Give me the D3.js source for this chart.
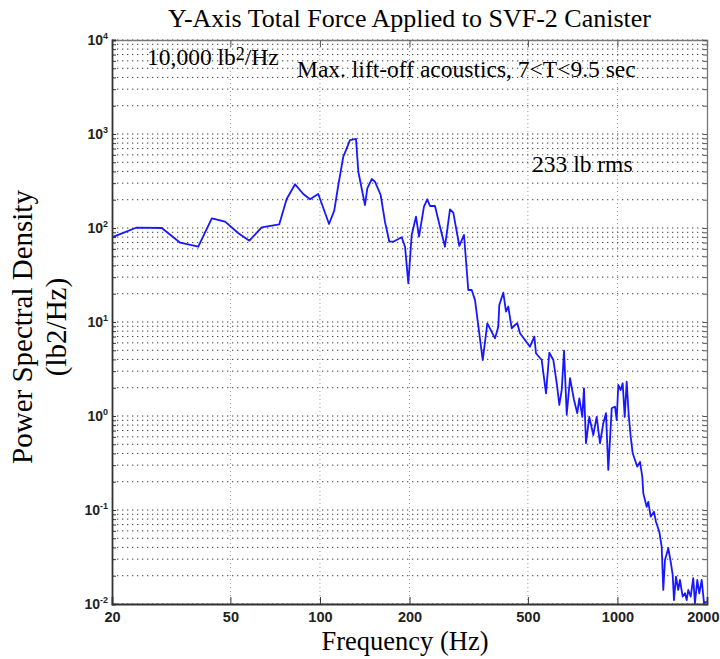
<!DOCTYPE html>
<html>
<head>
<meta charset="utf-8">
<script src="https://cdn.jsdelivr.net/npm/d3@7"></script>
<style>
  body { margin: 0; background: #fff; }
</style>
</head>
<body>
<div id="psd-chart"></div>
<script>
const freqHz = [20, 24.1, 29.4, 33.9, 39.0, 43.3, 48.0, 53.2, 57.9, 63.7, 73.0, 77.3, 82.5, 87.9, 92.6, 98.7,
  107.3, 111.7, 115.3, 119.8, 123.0, 126.2, 132.2, 134.6, 141.7, 144.3, 149.3, 153.1, 160.0, 165.4, 171.1, 176.4,
  188.3, 193.2, 198.2, 203.4, 210.3, 215.3, 223.7, 229.5, 234.4, 243.6, 253.2, 263.2, 273.6, 280.7, 294.1, 305.0,
  315.2, 323.7, 332.1, 352.5, 365.3, 387.7, 397.7, 400.7, 413.3, 422.1, 429.6, 441.1, 452.5, 460.7, 470.4, 489.0,
  508.2, 525.5, 532.4, 556.4, 575.3, 590.2, 608.9, 625.1, 637.7, 649.7, 661.4, 675.4, 692.8, 714.5, 733.0, 744.4,
  761.7, 771.9, 783.9, 804.2, 829.4, 851.5, 873.6, 896.2, 915.2, 931.6, 956.6, 981.3, 994.3, 1006.5, 1025.4, 1041.3,
  1057.8, 1074.2, 1091, 1108, 1125.5, 1145.5, 1166, 1190.7, 1212, 1221.5, 1253.9, 1269.6, 1293.5, 1326.6, 1347.6, 1382.5,
  1408.2, 1425.9, 1444.7, 1482.1, 1510, 1533.5, 1549, 1573, 1601, 1622, 1657, 1687, 1709, 1730, 1763, 1798,
  1822, 1855, 1884, 1920, 1954, 1995];
const psd = [79.6, 100.7, 100, 69.8, 63.2, 126.8, 116.7, 87.9, 73.3, 101.7, 109.5, 203.6, 291.7, 230, 202, 230,
  110.3, 152.8, 286.7, 573, 704, 863, 885, 397, 175.6, 264, 332, 311, 224.4, 116.7, 71.5, 71.5,
  79.6, 63.2, 25.8, 84.3, 131.9, 80.8, 168.6, 202, 171.4, 171.4, 103.2, 63.2, 158.1, 145.5, 64.4, 84.3,
  21.9, 21.9, 17.1, 3.94, 9.69, 6.71, 8.91, 15.2, 20.5, 12.9, 14.6, 8.57, 9.29, 9.69, 7.58, 6.44,
  5.46, 6.98, 4.65, 3.94, 1.74, 4.71, 3.94, 2.23, 1.31, 1.89, 4.95, 1.03, 2.52, 1.48, 1.07, 1.54,
  0.98, 1.97, 0.513, 0.98, 0.628, 0.98, 0.513, 0.836, 1.07, 0.267, 1.21, 1.26, 0.906, 2.14, 1.89, 2.23,
  0.98, 2.32, 1.03, 0.603, 0.401, 0.340, 0.289, 0.325, 0.226, 0.151, 0.108, 0.122, 0.085, 0.096, 0.075, 0.0587,
  0.0408, 0.0141, 0.0294, 0.0392, 0.0282, 0.0204, 0.0110, 0.0195, 0.0141, 0.0180, 0.0120, 0.0130, 0.0110, 0.0141, 0.0120, 0.0188,
  0.0102, 0.0180, 0.0130, 0.0180, 0.0102, 0.0106];
const xTicks = [20, 50, 100, 200, 500, 1000, 2000];
const yExponents = [-2, -1, 0, 1, 2, 3, 4];

const titleText = 'Y-Axis Total Force Applied to SVF-2 Canister';
const xLabel = 'Frequency (Hz)';
const yLabelLines = ['Power Spectral Density', '(lb2/Hz)'];

const drawChart = () => {
  let width = 720,
    height = 659,
    margin = { top: 40, right: 13, bottom: 55, left: 112 },
    serif = '"Liberation Serif", "Times New Roman", serif',
    sans = '"Liberation Sans", Arial, sans-serif';

  let svg = d3.select('#psd-chart')
    .append('svg')
    .attr('width', width)
    .attr('height', height);

  let x = d3.scaleLog().domain([20, 2000]).range([margin.left, width - margin.right]);
  let y = d3.scaleLog().domain([1e-2, 1e4]).range([height - margin.bottom, margin.top]);

  // minor log grid values 1..9 x 10^k
  let yGrid = [];
  yExponents.slice(0, -1).forEach(e => {
    for (let m = 1; m <= 9; m++) yGrid.push(m * Math.pow(10, e));
  });
  yGrid.push(1e4);

  svg.append('g')
    .selectAll('line')
    .data(yGrid)
    .enter().append('line')
    .attr('x1', x.range()[0]).attr('x2', x.range()[1])
    .attr('y1', d => y(d)).attr('y2', d => y(d))
    .attr('stroke', '#3a3a3a')
    .attr('stroke-width', 1)
    .attr('stroke-dasharray', '1.3,3.7');

  svg.append('g')
    .selectAll('line')
    .data(xTicks.slice(1, -1))
    .enter().append('line')
    .attr('x1', d => x(d)).attr('x2', d => x(d))
    .attr('y1', y.range()[0]).attr('y2', y.range()[1])
    .attr('stroke', '#999')
    .attr('stroke-width', 1)
    .attr('stroke-dasharray', '1,3');

  svg.append('clipPath').attr('id', 'plot-clip')
    .append('rect')
    .attr('x', x.range()[0]).attr('y', y.range()[1])
    .attr('width', x.range()[1] - x.range()[0])
    .attr('height', y.range()[0] - y.range()[1]);

  let points = d3.range(Math.min(freqHz.length, psd.length)).map(i => [freqHz[i], psd[i]]);
  let line = d3.line().x(d => x(d[0])).y(d => y(d[1]));

  svg.append('path')
    .datum(points)
    .attr('clip-path', 'url(#plot-clip)')
    .attr('d', line)
    .attr('fill', 'none')
    .attr('stroke', '#1818ff')
    .attr('stroke-width', 1.8)
    .attr('stroke-linejoin', 'round');

  // Frame: top / right
  svg.append('g')
    .attr('transform', `translate(0,${margin.top})`)
    .call(d3.axisTop(x).tickValues(xTicks.slice(1, -1)).tickSize(-7).tickFormat(''))
    .call(g => g.select('.domain').attr('stroke', '#777').attr('stroke-width', 1.3))
    .call(g => g.selectAll('.tick line').attr('stroke', '#555'));

  svg.append('g')
    .attr('transform', `translate(${width - margin.right},0)`)
    .call(d3.axisRight(y).tickValues(yGrid).tickSize(-4).tickFormat(''))
    .call(g => g.select('.domain').attr('stroke', '#777').attr('stroke-width', 1.3))
    .call(g => g.selectAll('.tick line').attr('stroke', '#555'));

  // X Axis
  svg.append('g')
    .attr('transform', `translate(0,${height - margin.bottom})`)
    .call(d3.axisBottom(x).tickValues(xTicks).tickSize(-7).tickPadding(8).tickFormat(d3.format('d')))
    .call(g => g.select('.domain').attr('stroke', '#333').attr('stroke-width', 1.8))
    .call(g => g.selectAll('.tick line').attr('stroke', '#333'))
    .call(g => g.selectAll('.tick text')
      .attr('fill', '#222')
      .style('font-family', sans)
      .style('font-size', '14.5px')
      .style('font-weight', 'bold'))
    // last label sits flush with the page edge
    .call(g => g.selectAll('.tick text').filter(d => d === 2000)
      .attr('text-anchor', 'end')
      .attr('x', width - 1 - x(2000)));

  // Y Axis
  let yAxis = svg.append('g')
    .attr('transform', `translate(${margin.left},0)`)
    .call(d3.axisLeft(y).tickValues(yGrid).tickSize(-4).tickFormat(''))
    .call(g => g.select('.domain').attr('stroke', '#333').attr('stroke-width', 1.8))
    .call(g => g.selectAll('.tick line').attr('stroke', '#333'));

  let yLabels = yAxis.append('g')
    .selectAll('text')
    .data(yExponents)
    .enter().append('text')
    .attr('x', -4)
    .attr('y', d => y(Math.pow(10, d)) + 5)
    .attr('text-anchor', 'end')
    .attr('fill', '#222')
    .style('font-family', sans)
    .style('font-size', '14px')
    .style('font-weight', 'bold');
  yLabels.append('tspan').text('10');
  yLabels.append('tspan')
    .attr('dy', -6)
    .style('font-size', '9px')
    .text(d => d);

  // Title and axis labels
  svg.append('text')
    .attr('x', (x.range()[0] + x.range()[1]) / 2)
    .attr('y', 27)
    .attr('text-anchor', 'middle')
    .style('font-family', serif)
    .style('font-size', '26px')
    .text(titleText);

  svg.append('text')
    .attr('x', 405)
    .attr('y', 650)
    .attr('text-anchor', 'middle')
    .style('font-family', serif)
    .style('font-size', '26.5px')
    .text(xLabel);

  svg.append('g')
    .selectAll('text')
    .data(yLabelLines)
    .enter().append('text')
    .attr('transform', (d, i) => `translate(${i ? 66 : 32},327) rotate(-90)`)
    .attr('text-anchor', 'middle')
    .style('font-family', serif)
    .style('font-size', '29px')
    .text(d => d);

  // Annotations
  let note1 = svg.append('text')
    .attr('x', 147)
    .attr('y', 65)
    .style('font-family', serif)
    .style('font-size', '23.5px');
  note1.append('tspan').text('10,000 lb');
  note1.append('tspan').attr('dy', -5).style('font-size', '18px').text('2');
  note1.append('tspan').attr('dy', 5).text('/Hz');

  svg.append('text')
    .attr('x', 297)
    .attr('y', 77)
    .style('font-family', serif)
    .style('font-size', '23.5px')
    .text('Max. lift-off acoustics, 7<T<9.5 sec');

  svg.append('text')
    .attr('x', 532)
    .attr('y', 172)
    .style('font-family', serif)
    .style('font-size', '23.5px')
    .text('233 lb rms');
}

drawChart();
</script>
</body>
</html>
